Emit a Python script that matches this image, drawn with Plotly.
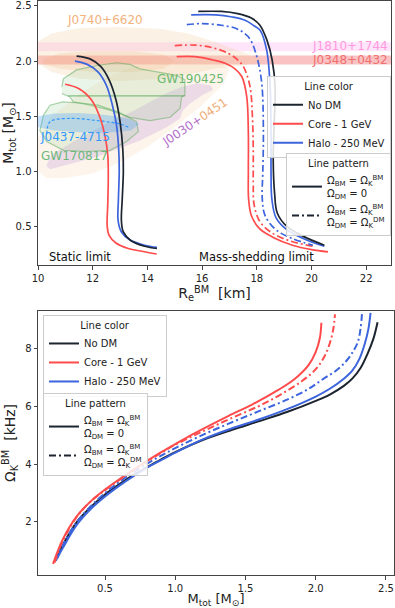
import plotly.graph_objects as go

# ---------------- colours ----------------
C_NODM = "#1c2430"
C_CORE = "#ff4b4b"
C_HALO = "#3c64dc"
DASHDOT = "7px,3px,2px,3px"

# ---------------- top panel: M(R) ----------------
# static limit (solid)
R_st_nodm = [11.41, 11.9, 12.3, 12.6, 12.85, 13.0, 13.1, 13.12, 13.08, 13.05, 13.12, 13.4, 13.9, 14.35]
M_st_nodm = [2.045, 2.02, 1.95, 1.83, 1.65, 1.45, 1.2, 1.0, 0.75, 0.55, 0.45, 0.37, 0.32, 0.30]
R_st_halo = [11.35, 11.8, 12.2, 12.5, 12.72, 12.87, 12.95, 12.97, 12.94, 12.93, 13.05, 13.35, 13.9, 14.35]
M_st_halo = [2.0, 1.97, 1.9, 1.78, 1.6, 1.42, 1.2, 1.0, 0.75, 0.55, 0.45, 0.38, 0.33, 0.31]
R_st_core = [10.99, 11.5, 11.95, 12.25, 12.45, 12.55, 12.57, 12.55, 12.53, 12.6, 12.85, 13.3, 13.8, 14.34]
M_st_core = [1.79, 1.75, 1.65, 1.5, 1.32, 1.15, 0.95, 0.7, 0.5, 0.42, 0.35, 0.30, 0.275, 0.25]

# mass-shedding limit
R_ms_nodm = [15.86, 16.7, 17.3, 17.8, 18.1, 18.37, 18.56, 18.67, 18.63, 18.6, 18.65, 18.75, 19.1, 19.7, 20.47]
M_ms_nodm = [2.45, 2.45, 2.43, 2.39, 2.33, 2.19, 2.01, 1.76, 1.4, 1.1, 0.8, 0.62, 0.50, 0.41, 0.33]
R_ms_halo = [15.6, 16.5, 17.1, 17.57, 17.9, 18.12, 18.36, 18.48, 18.52, 18.52, 18.55, 18.7, 19.1, 19.8, 20.47]
M_ms_halo = [2.42, 2.42, 2.40, 2.37, 2.32, 2.28, 2.10, 1.80, 1.35, 1.0, 0.75, 0.58, 0.47, 0.38, 0.32]
R_ms_halo_dd = [15.44, 16.0, 16.7, 17.2, 17.5, 17.75, 18.0, 18.18, 18.24, 18.22, 18.2, 18.3, 18.7, 19.3, 20.05]
M_ms_halo_dd = [2.33, 2.34, 2.325, 2.30, 2.26, 2.2, 2.04, 1.80, 1.35, 1.0, 0.75, 0.6, 0.47, 0.39, 0.33]
R_ms_core = [15.07, 15.74, 16.4, 16.84, 17.2, 17.45, 17.63, 17.69, 17.69, 17.7, 17.8, 18.1, 18.6, 19.3, 20.0, 20.6]
M_ms_core = [2.04, 2.04, 2.01, 1.98, 1.93, 1.86, 1.68, 1.35, 1.0, 0.75, 0.6, 0.48, 0.40, 0.33, 0.29, 0.27]
R_ms_core_dd = [15.0, 15.74, 16.4, 16.96, 17.3, 17.51, 17.75, 17.84, 17.87, 17.87, 17.9, 18.1, 18.5, 19.2, 20.07]
M_ms_core_dd = [2.14, 2.145, 2.12, 2.07, 2.01, 1.95, 1.77, 1.49, 1.2, 0.9, 0.7, 0.55, 0.45, 0.37, 0.32]

# observational constraints
J1810_band = [2.09, 2.17]
J0348_band = [1.97, 2.05]
R_J0740 = [10.0, 10.5, 11.5, 13.0, 14.5, 15.5, 16.5, 17.5, 18.3, 17.5, 16.5, 15.5, 14.5, 13.0, 11.5, 10.5, 10.0]
M_J0740 = [2.18, 2.25, 2.3, 2.31, 2.29, 2.25, 2.17, 2.08, 2.0, 1.96, 1.93, 1.88, 1.84, 1.82, 1.84, 1.9, 1.98]
R_J0740_in = [10.2, 10.8, 12.0, 13.5, 14.6, 15.0, 14.6, 13.5, 12.0, 10.8, 10.2]
M_J0740_in = [2.02, 2.07, 2.09, 2.09, 2.06, 2.0, 1.93, 1.9, 1.9, 1.93, 1.97]
R_J0030_or = [10.0, 10.0, 10.5, 11.5, 12.5, 13.5, 14.5, 15.5, 16.5, 17.0, 16.8, 16.0, 15.0, 14.0, 13.0, 12.0, 11.0, 10.3]
M_J0030_or = [1.0, 1.3, 1.5, 1.7, 1.85, 1.95, 2.0, 2.02, 2.0, 1.93, 1.8, 1.6, 1.4, 1.22, 1.08, 0.98, 0.94, 0.94]
R_J0030_pu = [10.3, 10.5, 11.5, 12.5, 13.5, 14.1, 14.7, 15.3, 15.8, 16.3, 16.4, 16.0, 15.56, 15.3, 15.19, 14.7, 13.73, 12.14, 10.9, 10.44]
M_J0030_pu = [1.05, 1.15, 1.3, 1.43, 1.55, 1.63, 1.71, 1.77, 1.80, 1.78, 1.74, 1.69, 1.615, 1.555, 1.48, 1.40, 1.28, 1.13, 1.05, 1.02]
R_GW1904 = [10.87, 10.93, 11.41, 12.14, 12.88, 13.36, 13.73, 14.46, 15.07, 15.37, 15.37, 15.25, 15.19, 14.83, 14.1, 13.36, 12.63, 11.9, 11.29, 11.17, 10.87]
M_GW1904 = [1.767, 1.84, 1.92, 1.96, 1.985, 1.97, 1.93, 1.90, 1.87, 1.83, 1.69, 1.675, 1.57, 1.49, 1.46, 1.49, 1.555, 1.6, 1.63, 1.675, 1.706]
R_GW1904_line = [11.1, 15.37]
M_GW1904_line = [1.685, 1.685]
R_GW1708 = [10.2, 10.44, 10.9, 11.54, 12.2, 13.0, 13.6, 13.67, 13.24, 12.63, 11.78, 10.93, 10.32, 10.07, 10.2]
M_GW1708 = [1.51, 1.6, 1.63, 1.62, 1.6, 1.53, 1.45, 1.36, 1.27, 1.19, 1.18, 1.19, 1.27, 1.37, 1.51]
R_J0437 = [10.0, 10.6, 11.5, 12.5, 13.3, 13.7, 13.4, 12.5, 11.5, 10.6, 10.0]
M_J0437 = [1.50, 1.525, 1.53, 1.51, 1.48, 1.43, 1.37, 1.35, 1.355, 1.37, 1.40]
R_J0437_dash = [10.32, 10.44, 11.17, 12.0, 12.51, 13.0, 13.3]
M_J0437_dash = [1.34, 1.45, 1.48, 1.465, 1.45, 1.43, 1.40]

# ---------------- bottom panel: Omega(M) ----------------
M_om_nodm = [0.15, 0.2, 0.3, 0.4, 0.5, 0.6, 0.7, 0.8, 0.9, 1.0, 1.2, 1.4, 1.6, 1.8, 2.0, 2.1, 2.2, 2.26, 2.32, 2.37, 2.41, 2.44]
O_om_nodm = [0.70, 1.2, 2.0, 2.52, 2.95, 3.3, 3.62, 3.9, 4.17, 4.42, 4.85, 5.19, 5.5, 5.82, 6.2, 6.42, 6.72, 6.97, 7.35, 7.85, 8.35, 8.93]
M_om_halo = [0.16, 0.2, 0.3, 0.4, 0.5, 0.6, 0.7, 0.8, 0.9, 1.0, 1.2, 1.4, 1.6, 1.8, 2.0, 2.1, 2.2, 2.26, 2.31, 2.35, 2.375, 2.39]
O_om_halo = [0.74, 1.1, 1.9, 2.45, 2.88, 3.25, 3.58, 3.88, 4.14, 4.4, 4.87, 5.24, 5.56, 5.92, 6.35, 6.62, 6.97, 7.25, 7.65, 8.2, 8.7, 9.25]
M_om_halo_dd = [0.15, 0.2, 0.3, 0.4, 0.5, 0.6, 0.7, 0.8, 0.9, 1.0, 1.2, 1.4, 1.6, 1.8, 1.95, 2.05, 2.15, 2.22, 2.27, 2.30, 2.32, 2.33]
O_om_halo_dd = [0.65, 1.2, 2.0, 2.55, 3.0, 3.38, 3.72, 4.02, 4.3, 4.56, 5.03, 5.45, 5.85, 6.25, 6.62, 6.95, 7.27, 7.6, 7.95, 8.25, 8.75, 9.3]
M_om_core = [0.13, 0.2, 0.3, 0.4, 0.5, 0.6, 0.7, 0.8, 0.9, 1.0, 1.14, 1.38, 1.55, 1.73, 1.85, 1.95, 2.0, 2.03, 2.04]
O_om_core = [0.54, 1.4, 2.2, 2.72, 3.12, 3.47, 3.8, 4.12, 4.42, 4.7, 5.08, 5.68, 6.08, 6.57, 6.96, 7.45, 7.9, 8.4, 8.91]
M_om_core_dd = [0.14, 0.2, 0.3, 0.4, 0.5, 0.6, 0.7, 0.8, 0.9, 1.0, 1.2, 1.4, 1.6, 1.75, 1.9, 2.0, 2.06, 2.1, 2.125, 2.137]
O_om_core_dd = [0.58, 1.35, 2.18, 2.72, 3.1, 3.45, 3.78, 4.1, 4.4, 4.68, 5.15, 5.6, 6.03, 6.42, 6.88, 7.3, 7.72, 8.2, 8.7, 9.2]

# axis ticks
top_xticks = [10, 12, 14, 16, 18, 20, 22]
top_yticks = [0.5, 1.0, 1.5, 2.0, 2.5]
bot_xticks = [0.5, 1.0, 1.5, 2.0, 2.5]
bot_yticks = [2, 4, 6, 8]

fig = go.Figure()

def region(x, y, fill, line=None, lw=0):
    fig.add_trace(go.Scatter(x=x, y=y, mode="lines", fill="toself", fillcolor=fill,
                             line=dict(color=line or "rgba(0,0,0,0)", width=lw),
                             showlegend=False, hoverinfo="skip", xaxis="x", yaxis="y"))

# horizontal bands (full width)
for band, col in [(J1810_band, "rgba(255,150,235,0.25)"), (J0348_band, "rgba(240,80,80,0.35)")]:
    fig.add_trace(go.Scatter(x=[10, 22.906, 22.906, 10, 10], y=[band[0], band[0], band[1], band[1], band[0]],
                             mode="lines", fill="toself", fillcolor=col, line=dict(width=0),
                             showlegend=False, hoverinfo="skip", xaxis="x", yaxis="y"))

region(R_J0740, M_J0740, "rgba(240,205,150,0.25)")
region(R_J0740_in, M_J0740_in, "rgba(240,160,110,0.18)")
region(R_J0030_or, M_J0030_or, "rgba(245,205,160,0.2)")
region(R_J0030_pu, M_J0030_pu, "rgba(190,140,215,0.25)")
region(R_GW1904, M_GW1904, "rgba(150,205,150,0.2)", "rgba(90,170,90,0.5)", 1.2)
region(R_GW1708, M_GW1708, "rgba(150,205,150,0.2)", "rgba(90,170,90,0.5)", 1.2)
region(R_J0437, M_J0437, "rgba(70,160,245,0.3)")
fig.add_trace(go.Scatter(x=R_GW1904_line, y=M_GW1904_line, mode="lines",
                         line=dict(color="rgba(90,170,90,0.7)", width=1.2),
                         showlegend=False, hoverinfo="skip", xaxis="x", yaxis="y"))
fig.add_trace(go.Scatter(x=R_J0437_dash, y=M_J0437_dash, mode="lines", line_shape="spline",
                         line=dict(color="#3399ff", width=1.2, dash="3px,2px"),
                         showlegend=False, hoverinfo="skip", xaxis="x", yaxis="y"))

def curve(x, y, color, dash, xa, ya, w):
    fig.add_trace(go.Scatter(x=x, y=y, mode="lines", line_shape="spline",
                             line=dict(color=color, width=w, dash=dash),
                             showlegend=False, hoverinfo="skip", xaxis=xa, yaxis=ya))

LW_T = 1.7
curve(R_st_core, M_st_core, C_CORE, "solid", "x", "y", LW_T)
curve(R_st_halo, M_st_halo, C_HALO, "solid", "x", "y", LW_T)
curve(R_st_nodm, M_st_nodm, C_NODM, "solid", "x", "y", LW_T)
curve(R_ms_core, M_ms_core, C_CORE, "solid", "x", "y", LW_T)
curve(R_ms_core_dd, M_ms_core_dd, C_CORE, DASHDOT, "x", "y", LW_T)
curve(R_ms_halo_dd, M_ms_halo_dd, C_HALO, DASHDOT, "x", "y", LW_T)
curve(R_ms_halo, M_ms_halo, C_HALO, "solid", "x", "y", LW_T)
curve(R_ms_nodm, M_ms_nodm, C_NODM, "solid", "x", "y", LW_T)

LW_B = 2.0
curve(M_om_nodm, O_om_nodm, C_NODM, "solid", "x2", "y2", LW_B)
curve(M_om_halo, O_om_halo, C_HALO, "solid", "x2", "y2", LW_B)
curve(M_om_halo_dd, O_om_halo_dd, C_HALO, DASHDOT, "x2", "y2", LW_B)
curve(M_om_core, O_om_core, C_CORE, "solid", "x2", "y2", LW_B)
curve(M_om_core_dd, O_om_core_dd, C_CORE, DASHDOT, "x2", "y2", LW_B)

# legend entries
color_entries = [("No DM", C_NODM), ("Core - 1 GeV", C_CORE), ("Halo - 250 MeV", C_HALO)]
pattern_entries = [
    ("Ω<sub>BM</sub> = Ω<sub>K</sub><sup>BM</sup><br>Ω<sub>DM</sub> = 0", "solid"),
    ("Ω<sub>BM</sub> = Ω<sub>K</sub><sup>BM</sup><br>Ω<sub>DM</sub> = Ω<sub>K</sub><sup>DM</sup>", DASHDOT),
]
for leg_c, leg_p, xa, ya in [("legend", "legend2", "x", "y"), ("legend3", "legend4", "x2", "y2")]:
    for name, col in color_entries:
        fig.add_trace(go.Scatter(x=[None], y=[None], mode="lines", name=name,
                                 line=dict(color=col, width=2), legend=leg_c, xaxis=xa, yaxis=ya))
    for name, dash in pattern_entries:
        fig.add_trace(go.Scatter(x=[None], y=[None], mode="lines", name=name,
                                 line=dict(color=C_NODM, width=2, dash=dash), legend=leg_p, xaxis=xa, yaxis=ya))

FONT = "DejaVu Sans"

def legend_cfg(x, y, title, xanchor="left"):
    return dict(x=x, y=y, xanchor=xanchor, yanchor="top", xref="paper", yref="paper",
                title=dict(text=title, side="top center", font=dict(size=10, color="#222")),
                bordercolor="#cccccc", borderwidth=1, bgcolor="rgba(255,255,255,0.85)",
                font=dict(size=10, color="#222", family=FONT), itemwidth=30, tracegroupgap=0)

axis_common = dict(showline=True, linecolor="#444", linewidth=1, mirror=True, ticks="outside",
                   ticklen=3.5, tickwidth=1, tickcolor="#444", showgrid=False, zeroline=False,
                   automargin=False, tickfont=dict(size=10, color="#222", family=FONT))

def ann(x, y, text, color, size=12, angle=0):
    return dict(x=x, y=y, xref="x", yref="y", text=text, showarrow=False,
                font=dict(size=size, color=color, family=FONT), textangle=angle)

annotations = [
    ann(11.54, 0.227, "Static limit", "#111", 11.5),
    ann(17.97, 0.227, "Mass-shedding limit", "#111", 11.5),
    ann(12.45, 2.373, "J0740+6620", "#f2b27c"),
    ann(21.4, 2.135, "J1810+1744", "#ff99e0"),
    ann(21.4, 2.012, "J0348+0432", "#f07070"),
    ann(15.56, 1.836, "GW190425", "#6cb86c"),
    ann(11.35, 1.31, "J0437-4715", "#3399ff"),
    ann(11.35, 1.136, "GW170817", "#6cb87a"),
    ann(15.74, 1.445, "<span style='color:#b36fc9'>J0030+</span><span style='color:#f0ae7a'>0451</span>",
        "#b36fc9", 12, -34),
]

fig.update_layout(
    width=395, height=608,
    margin=dict(l=38, r=1, t=1, b=33),
    paper_bgcolor="white", plot_bgcolor="white",
    font=dict(family=FONT, color="#222"),
    xaxis=dict(domain=[0, 0.9916], range=[10, 22.906], anchor="y", tickvals=top_xticks,
               title=dict(text="R<sub>e</sub><sup>BM</sup>  [km]", font=dict(size=14), standoff=0),
               **axis_common),
    yaxis=dict(domain=[0.540, 1], range=[0.15, 2.545], anchor="x", tickvals=top_yticks,
               ticktext=[f"{v:.1f}" for v in top_yticks],
               title=dict(text="M<sub>tot</sub> [M<sub>⊙</sub>]", font=dict(size=14), standoff=2),
               **axis_common),
    xaxis2=dict(domain=[0, 1], range=[0.023, 2.557], anchor="y2", tickvals=bot_xticks,
                ticktext=[f"{v:.1f}" for v in bot_xticks],
                title=dict(text="M<sub>tot</sub> [M<sub>⊙</sub>]", font=dict(size=13), standoff=2),
                **axis_common),
    yaxis2=dict(domain=[0, 0.46], range=[0.156, 9.32], anchor="x2", tickvals=bot_yticks,
                title=dict(text="Ω<sub>K</sub><sup>BM</sup>  [kHz]", font=dict(size=14), standoff=8),
                **axis_common),
    legend=legend_cfg(0.9916, 0.869, "Line color", "right"),
    legend2=legend_cfg(0.9916, 0.735, "Line pattern", "right"),
    legend3=legend_cfg(0.014, 0.453, "Line color"),
    legend4=legend_cfg(0.014, 0.317, "Line pattern"),
    annotations=annotations,
)

fig.write_html("out.html", config={"displayModeBar": False},
               post_script="document.body.style.margin='0';document.body.style.overflow='hidden';")
